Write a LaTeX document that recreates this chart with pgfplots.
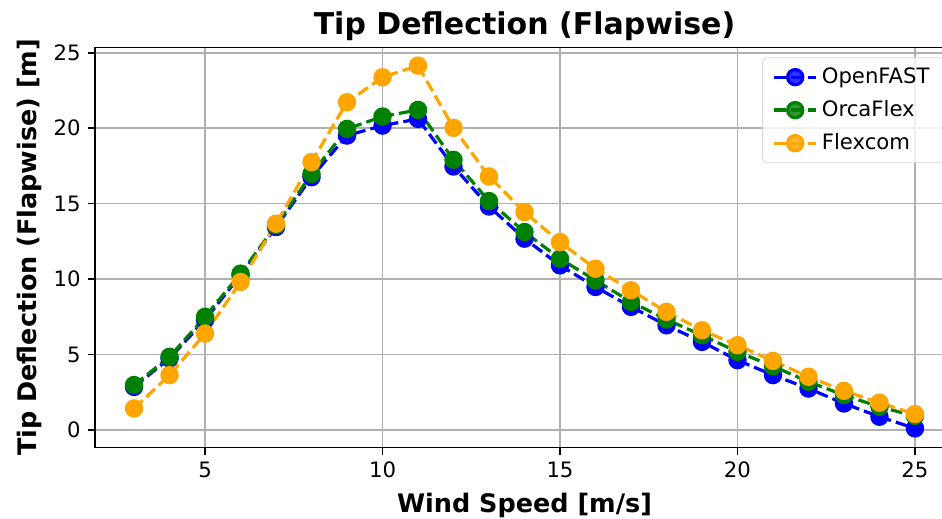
\documentclass[border=0pt]{standalone}
\usepackage{fontspec}
\setmainfont{DejaVu Sans}
\usepackage{pgfplots}
\pgfplotsset{compat=1.18}
\definecolor{mplblue}{RGB}{0,0,255}
\definecolor{mplgreen}{RGB}{0,128,0}
\definecolor{mplorange}{RGB}{255,165,0}
\definecolor{gridgray}{RGB}{176,176,176}
\definecolor{leggray}{RGB}{214,214,214}
\begin{document}
\begin{tikzpicture}
\path[use as bounding box, clip] (-47.5pt,-35.8pt) rectangle (423.5pt,223.7pt);
\begin{axis}[
  at={(0,0)}, anchor=south west,
  scale only axis, width=429.5pt, height=200pt,
  xmin=1.9, xmax=26.1, ymin=-1.15, ymax=25.35,
  xtick={5,10,15,20,25}, ytick={0,5,10,15,20,25},
  grid=major,
  major grid style={color=gridgray, line width=0.85pt},
  axis line style={line width=0.85pt, black},
  tick style={line width=0.85pt, black},
  tick align=outside, major tick length=3.7pt,
  xtick pos=bottom, ytick pos=left,
  /pgf/number format/assume math mode=true,
  ticklabel style={font=\fontsize{10.6}{12.7}\selectfont},
  title={Tip Deflection (Flapwise)},
  title style={font=\fontsize{15}{18}\selectfont\bfseries, yshift=-6pt},
  xlabel={Wind Speed [m/s]},
  ylabel={Tip Deflection (Flapwise) [m]},
  label style={font=\fontsize{12.75}{15}\selectfont\bfseries},
  xlabel style={yshift=-0.5pt},
  ylabel style={yshift=-1pt},
  legend style={at={(rel axis cs:1,1)}, anchor=north east, xshift=-5pt, yshift=-5pt,
    draw=leggray, rounded corners=2pt, fill=white, fill opacity=0.8, text opacity=1,
    font=\fontsize{10.6}{12.7}\selectfont, row sep=3pt, inner xsep=5pt, inner ysep=3pt},
  legend cell align=left,
  legend image code/.code={\draw[mark repeat=2, mark phase=2, #1] plot coordinates {(0pt,0pt) (10.5pt,0pt) (21pt,0pt)};},
  every axis plot/.append style={line width=1.6pt, dash pattern=on 5.9pt off 2.55pt, mark=*, mark size=3.8pt},
]
\addplot[color=mplblue, mark options={solid, fill=mplblue, draw=none}] coordinates {
(3,2.86) (4,4.75) (5,7.3) (6,10.26) (7,13.45) (8,16.75) (9,19.51) (10,20.17) (11,20.61)
(12,17.46) (13,14.81) (14,12.68) (15,10.91) (16,9.48) (17,8.16) (18,6.94) (19,5.84)
(20,4.63) (21,3.64) (22,2.75) (23,1.76) (24,0.88) (25,0.11)};
\addlegendentry{OpenFAST}
\addplot[color=mplgreen, mark options={solid, fill=mplgreen, draw=none}] coordinates {
(3,2.98) (4,4.85) (5,7.5) (6,10.36) (7,13.56) (8,16.97) (9,19.95) (10,20.77) (11,21.21)
(12,17.9) (13,15.17) (14,13.12) (15,11.35) (16,9.92) (17,8.49) (18,7.32) (19,6.28)
(20,5.18) (21,4.23) (22,3.2) (23,2.31) (24,1.54) (25,0.93)};
\addlegendentry{OrcaFlex}
\addplot[color=mplorange, mark options={solid, fill=mplorange, draw=none}] coordinates {
(3,1.43) (4,3.64) (5,6.39) (6,9.81) (7,13.67) (8,17.75) (9,21.72) (10,23.37) (11,24.14)
(12,20.02) (13,16.8) (14,14.44) (15,12.45) (16,10.69) (17,9.26) (18,7.83) (19,6.61)
(20,5.62) (21,4.58) (22,3.53) (23,2.6) (24,1.81) (25,1.06)};
\addlegendentry{Flexcom}
\end{axis}
\end{tikzpicture}
\end{document}
